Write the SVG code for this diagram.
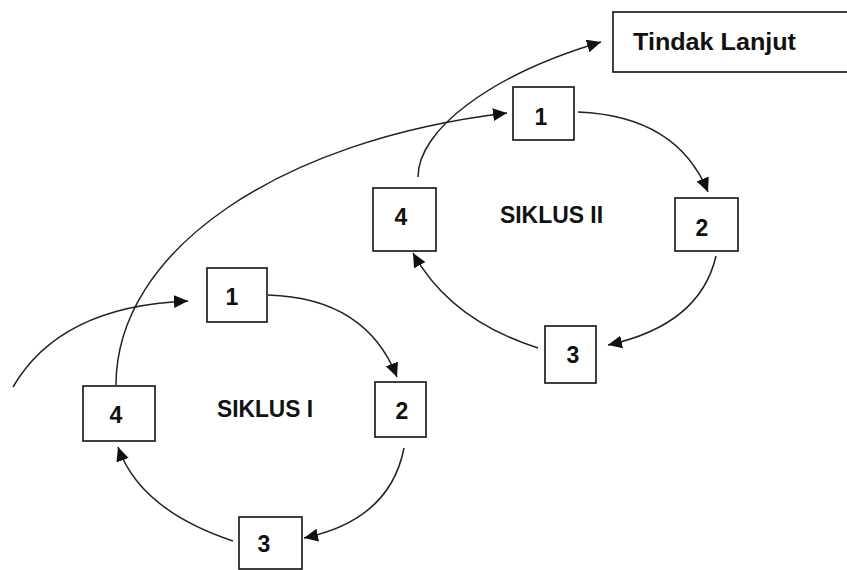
<svg xmlns="http://www.w3.org/2000/svg" width="847" height="570" viewBox="0 0 847 570">
<style>
.box{fill:#fff;stroke:#111;stroke-width:1.6}
.num{font-family:"Liberation Sans",Arial,sans-serif;font-weight:bold;font-size:23px;fill:#111;text-anchor:middle}
.lbl{font-family:"Liberation Sans",Arial,sans-serif;font-weight:bold;font-size:23px;fill:#111}
.c{fill:none;stroke:#222;stroke-width:1.5}
</style>
<defs>
<marker id="ah" markerUnits="userSpaceOnUse" markerWidth="15" markerHeight="13" refX="14" refY="6.5" orient="auto">
<path d="M0,0 L14,6.5 L0,13 z" fill="#111"/>
</marker>
</defs>
<rect width="847" height="570" fill="#fff"/>
<g id="connectors">
<path class="c" marker-end="url(#ah)" d="M13,387 Q60,306 188,301"/>
<path class="c" marker-end="url(#ah)" d="M116,385 C116,250 280,140 507,113"/>
<path class="c" marker-end="url(#ah)" d="M418,177 C418,130 490,75 601,42"/>
<path class="c" marker-end="url(#ah)" d="M268,295 Q366,298 397,377"/>
<path class="c" marker-end="url(#ah)" d="M404,448 Q390,520 304,538"/>
<path class="c" marker-end="url(#ah)" d="M233,541 Q140,510 118,447"/>
<path class="c" marker-end="url(#ah)" d="M578,112 Q677,116 708,192"/>
<path class="c" marker-end="url(#ah)" d="M716,256 Q700,325 608,345"/>
<path class="c" marker-end="url(#ah)" d="M538,348 Q450,320 413,253"/>
</g>
<g id="tindak-lanjut">
<rect class="box" x="613" y="12" width="250" height="60"/>
<text class="lbl" x="633" y="50" font-size="25" textLength="163" lengthAdjust="spacingAndGlyphs">Tindak Lanjut</text>
</g>
<g id="siklus1-label"><text class="lbl" x="217" y="417" textLength="96" lengthAdjust="spacingAndGlyphs">SIKLUS I</text></g>
<g id="siklus2-label"><text class="lbl" x="500" y="223" textLength="103" lengthAdjust="spacingAndGlyphs">SIKLUS II</text></g>
<g id="s1-n1"><rect class="box" x="207" y="268" width="60" height="54"/><text class="num" x="232" y="305">1</text></g>
<g id="s1-n2"><rect class="box" x="375" y="382" width="51" height="55"/><text class="num" x="402" y="419">2</text></g>
<g id="s1-n3"><rect class="box" x="239" y="517" width="63" height="52"/><text class="num" x="264" y="552">3</text></g>
<g id="s1-n4"><rect class="box" x="83" y="386" width="72" height="55"/><text class="num" x="116" y="423">4</text></g>
<g id="s2-n1"><rect class="box" x="513" y="87" width="61" height="53"/><text class="num" x="541" y="125">1</text></g>
<g id="s2-n2"><rect class="box" x="675" y="198" width="63" height="53"/><text class="num" x="702" y="236">2</text></g>
<g id="s2-n3"><rect class="box" x="545" y="326" width="51" height="57"/><text class="num" x="573" y="363">3</text></g>
<g id="s2-n4"><rect class="box" x="373" y="188" width="63" height="63"/><text class="num" x="401" y="225">4</text></g>
</svg>
